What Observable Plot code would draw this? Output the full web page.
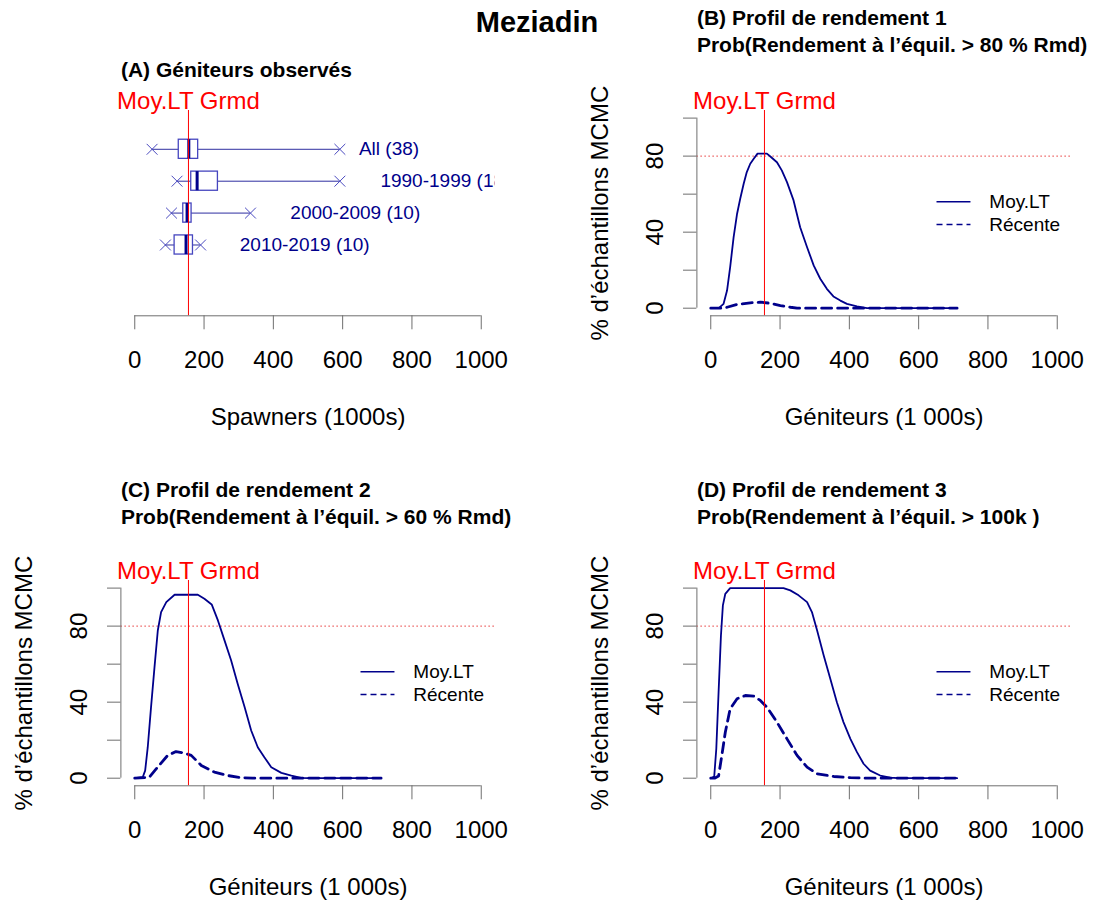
<!DOCTYPE html>
<html><head><meta charset="utf-8">
<script src="https://cdn.jsdelivr.net/npm/d3@7"></script>
<script src="https://cdn.jsdelivr.net/npm/@observablehq/plot@0.6"></script>
<style>
body{margin:0;background:#fff;}
#root{position:relative;width:1098px;height:903px;overflow:hidden;background:#fff;font-family:"Liberation Sans",Arial,sans-serif;}
#root svg{position:absolute;overflow:visible;}
#title{position:absolute;left:537px;top:8px;transform:translateX(-50%);font-weight:bold;font-size:29px;line-height:29px;white-space:nowrap;}
</style></head><body><div id="root"><div id="title">Meziadin</div></div>
<script>
// ---------- data ----------
const xTicks = [0, 200, 400, 600, 800, 1000];
const yTicks = [0, 20, 40, 60, 80, 100];
const yTickLabels = [0, 40, 80];
const grmdLT = 155;       // Moy.LT Grmd (1000s)
const threshold = 80;     // % reference line

// Panel A boxplots
const boxLabels = ["All (38)", "1990-1999 (18)", "2000-2009 (10)", "2010-2019 (10)"];
const boxMin = [50, 122, 106, 88.5];
const boxQ1 = [127, 163, 140, 115];
const boxMed = [156, 180, 151, 148];
const boxQ3 = [183, 240, 164, 168];
const boxMax = [592, 592, 334, 190];
const boxLabelX = [647, 709, 449, 303];

// Panel B (Profil 1, > 80 % Rmd)
const bMoyLT = [[0,0],[23,0],[37,2.3],[47,9.3],[56,21.6],[66,37.4],[76,49.7],[85,57.6],[95,65.5],[104,71.6],[114,76],[124,78.6],[135,81.3],[162,81.3],[172,79.8],[191,76.8],[205,72.5],[220,66.3],[239,56.7],[258,42.6],[278,32.1],[297,22.5],[316,15.5],[335,10.2],[354,6.2],[374,4],[393,2.3],[422,1],[451,0],[711,0]];
const bRecente = [[0,0],[30,0],[47,0.5],[76,2],[114,2.8],[143,3.2],[172,2.6],[201,1.4],[230,0.5],[249,0],[711,0]];
// Panel C (Profil 2, > 60 % Rmd)
const cMoyLT = [[0,0],[23,0.5],[30,4],[37.5,16.3],[47,37.4],[57,58.4],[66.5,77.7],[76,87.4],[91,92.6],[115,96.5],[182,96.5],[201,94.4],[222,91.4],[240,83],[259,72.5],[278,62],[297,49.7],[317,37.4],[336,25.1],[355,16.3],[374,11],[394,5.8],[423,2.8],[452,1.4],[480,0.2],[500,0],[711,0]];
const cRecente = [[0,0],[42,0.5],[66,5.8],[95,12],[119,14],[143,13.2],[163,12],[192,6.7],[230,3.2],[268,1.4],[307,0.3],[340,0],[711,0]];
// Panel D (Profil 3, > 100k)
const dMoyLT = [[0,0],[10,0.9],[16,15.5],[22.6,45.3],[29.4,75.1],[35,90.9],[42,97],[56,100],[210,100],[229.5,98.8],[253.5,96.2],[278,92.6],[292,87.4],[307,77.7],[326,64.6],[345,52.3],[364,40],[383,29.5],[403,20.7],[422,13.7],[441,7.6],[460,4],[489,1.4],[518,0.3],[540,0],[711,0]];
const dRecente = [[0,0],[11,0],[22.6,1.2],[32,12],[42,24.2],[56,36.5],[76,41.8],[100,43.5],[124,43.2],[143,40.9],[162,37.4],[191,29.5],[220,20.7],[249,12],[278,5.8],[307,2.3],[355,0.9],[403,0.3],[450,0],[711,0]];

const legendNames = ["Moy.LT", "Récente"];

// ---------- layout ----------
const root = document.getElementById("root");
const W = [576, 522], LEFTS = [0, 576], H = [470, 433], TOPS = [0, 470];
const ML = 120.4, MT = 110, PW = 374.2, PH = 205.3;
const navy = "#00008B", axisGrey = "#6e6e6e";
const FONT = "'Liberation Sans', Arial, sans-serif";
const xLim = [0, 1000], yLim = [0, 100];
const xPad = 0.04 * (xLim[1] - xLim[0]), yPad = 0.04 * (yLim[1] - yLim[0]);
const xDomain = [xLim[0] - xPad, xLim[1] + xPad];

function frame(col, row) {
  return {width: W[col], height: H[row], marginLeft: ML, marginTop: MT,
    marginRight: W[col] - ML - PW, marginBottom: H[row] - MT - PH,
    style: {background: "transparent", overflow: "visible", fontFamily: FONT}};
}
function place(svg, col, row) {
  svg.style.left = LEFTS[col] + "px";
  svg.style.top = TOPS[row] + "px";
  root.appendChild(svg);
}
function titleMarks(lines, dys) {
  return lines.map((t, i) => Plot.text([t], {frameAnchor: "top-left", dy: dys[i], textAnchor: "start", lineAnchor: "middle",
    fontWeight: "bold", fontSize: 21, fill: "black", text: d => d}));
}
function xAxisMarks(yLo, label) {
  return [
    Plot.ruleY([yLo], {x1: xLim[0], x2: xLim[1], stroke: axisGrey}),
    Plot.axisX(xTicks, {anchor: "bottom", tickSize: 14, tickPadding: 0, stroke: axisGrey, tickFormat: () => "", label: null}),
    Plot.text(xTicks, {x: d => d, frameAnchor: "bottom", dy: 45, fontSize: 24, fill: "black", textAnchor: "middle", lineAnchor: "middle", text: d => String(d)}),
    Plot.text([label], {frameAnchor: "bottom", dy: 102, fontSize: 24, fill: "black", textAnchor: "middle", lineAnchor: "middle", text: d => d})
  ];
}
function grmdMarks() {
  return [
    Plot.ruleX([grmdLT], {x: d => d, stroke: "red", strokeWidth: 1}),
    Plot.text([grmdLT], {x: d => d, frameAnchor: "top", dy: -9, fontSize: 24, fill: "red", textAnchor: "middle", lineAnchor: "middle", text: () => "Moy.LT Grmd"})
  ];
}

// ---------- Panel A ----------
{
  const idx = d3.range(boxLabels.length);
  const pos = idx.map(i => i + 1);
  const half = 0.3;
  const svg = Plot.plot({
    ...frame(0, 0),
    x: {domain: xDomain, axis: null},
    y: {domain: [6.22, -0.216], axis: null},
    marks: [
      Plot.ruleY(idx, {y: i => pos[i], x1: i => boxMin[i], x2: i => boxQ1[i], stroke: "#2e2ea0", strokeWidth: 1}),
      Plot.ruleY(idx, {y: i => pos[i], x1: i => boxQ3[i], x2: i => boxMax[i], stroke: "#2e2ea0", strokeWidth: 1}),
      Plot.rect(idx, {x1: i => boxQ1[i], x2: i => boxQ3[i], y1: i => pos[i] - half, y2: i => pos[i] + half,
        fill: "none", stroke: "#4646bf", strokeWidth: 1.3}),
      Plot.dot(idx, {x: i => boxMin[i], y: i => pos[i], symbol: "times", r: 5, stroke: "#4a4ac0", strokeWidth: 1}),
      Plot.dot(idx, {x: i => boxMax[i], y: i => pos[i], symbol: "times", r: 5, stroke: "#4a4ac0", strokeWidth: 1}),
      Plot.ruleX(idx, {x: i => boxMed[i], y1: i => pos[i] - half, y2: i => pos[i] + half, stroke: navy, strokeWidth: 3}),
      Plot.text(idx, {x: i => boxLabelX[i], y: i => pos[i], text: i => boxLabels[i], textAnchor: "start", lineAnchor: "middle",
        fontSize: 19, fill: navy, clip: "frame"}),
      ...grmdMarks(),
      ...xAxisMarks(6.22, "Spawners (1000s)"),
      ...titleMarks(["(A) Géniteurs observés"], [-40])
    ]
  });
  place(svg, 0, 0);
}

// ---------- Panels B, C, D ----------
function profilePanel(col, row, titles, moy, rec) {
  const yLo = yLim[0] - yPad;
  const tdy = row === 0 ? [-92, -65] : [-90, -63];
  const svg = Plot.plot({
    ...frame(col, row),
    x: {domain: xDomain},
    y: {domain: [yLo, yLim[1] + yPad]},
    marks: [
      Plot.ruleY([threshold], {y: d => d, stroke: "#e83a3a", strokeWidth: 1, strokeDasharray: "1.5,2.5"}),
      Plot.line(moy, {x: d => d[0], y: d => d[1], stroke: navy, strokeWidth: 1.8}),
      Plot.line(rec, {x: d => d[0], y: d => d[1], stroke: navy, strokeWidth: 2.8, strokeDasharray: "10,6"}),
      ...grmdMarks(),
      // legend
      Plot.ruleY([56], {y: d => d, x1: 653, x2: 751, stroke: navy, strokeWidth: 1.5}),
      Plot.ruleY([44], {y: d => d, x1: 653, x2: 751, stroke: navy, strokeWidth: 1.5, strokeDasharray: "6,4"}),
      Plot.text([56, 44], {x: 804, y: d => d, text: (d, i) => legendNames[i], textAnchor: "start", lineAnchor: "middle", fontSize: 19, fill: "black"}),
      // y axis
      Plot.ruleX([xDomain[0]], {x: d => d, y1: yLim[0], y2: yLim[1], stroke: axisGrey}),
      Plot.axisY(yTicks, {anchor: "left", tickSize: 13.4, tickPadding: 0, stroke: axisGrey, tickFormat: () => "", label: null}),
      Plot.text(yTickLabels, {y: d => d, frameAnchor: "left", dx: -41.7, rotate: -90, fontSize: 24, fill: "black",
        textAnchor: "middle", lineAnchor: "middle", text: d => String(d)}),
      Plot.text(["% d’échantillons MCMC"], {frameAnchor: "left", dx: -96.5, rotate: -90, fontSize: 24, fill: "black",
        textAnchor: "middle", lineAnchor: "middle", text: d => d}),
      ...xAxisMarks(yLo, "Géniteurs (1 000s)"),
      ...titleMarks(titles, tdy)
    ]
  });
  place(svg, col, row);
}
profilePanel(1, 0, ["(B) Profil de rendement 1", "Prob(Rendement à l’équil. > 80 % Rmd)"], bMoyLT, bRecente);
profilePanel(0, 1, ["(C) Profil de rendement 2", "Prob(Rendement à l’équil. > 60 % Rmd)"], cMoyLT, cRecente);
profilePanel(1, 1, ["(D) Profil de rendement 3", "Prob(Rendement à l’équil. > 100k )"], dMoyLT, dRecente);
</script></body></html>
